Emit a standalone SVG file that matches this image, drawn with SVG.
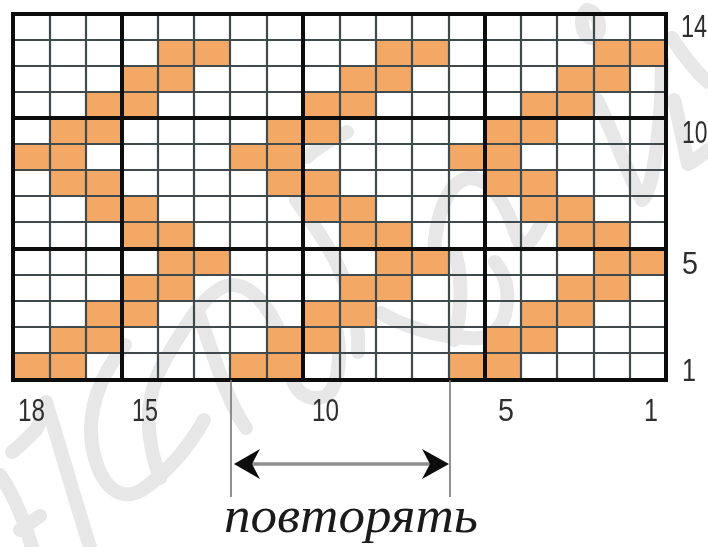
<svg xmlns="http://www.w3.org/2000/svg" width="708" height="547" viewBox="0 0 708 547">
<defs><filter id="soft" x="-2%" y="-2%" width="104%" height="104%"><feGaussianBlur stdDeviation="0.55"/></filter></defs>
<style>
.wm{fill:none;stroke:#e7e7e7;stroke-width:14;stroke-linecap:round;stroke-linejoin:round}
.o{fill:#f3a965}
.t{stroke:#3f4a4c;stroke-width:2.2;fill:none}
.k{stroke:#0c0c0c;stroke-width:4;fill:none}
.n{font-family:"Liberation Sans",Arial,sans-serif;font-size:31px;fill:#2e2e2e}
.g{stroke:#777;stroke-width:1.6;fill:none}
</style>
<rect width="708" height="547" fill="#fff"/>
<g id="watermark" filter="url(#soft)">
<path class="wm" d="M12 452C22 445 30 435 36 430C44 415 44 405 46 402C58 440 72 490 90 547"/>
<path class="wm" d="M0 475C14 495 24 520 32 547M20 530C28 525 36 518 40 516"/>
<path class="wm" d="M125 345C100 375 87 410 92 445C100 490 122 502 142 490C170 470 190 445 204 420"/>
<path class="wm" d="M160 478C146 440 142 400 165 360C185 325 210 285 232 285C258 285 283 325 290 370C294 395 310 402 326 396C340 385 342 350 335 325"/>
<path class="wm" d="M198 312C212 350 226 400 246 428"/>
<path class="wm" d="M347 132C330 140 316 148 307 157M296 200C310 220 325 240 335 260C350 290 360 320 358 352"/>
<path class="wm" d="M381 313C400 325 440 338 470 338C490 340 500 330 505 315C510 295 508 278 495 262"/>
<path class="wm" d="M434 252C436 215 448 180 470 178C495 178 510 215 518 240C524 252 535 240 546 212"/>
<path class="wm" d="M456 255C462 280 462 310 454 340"/>
<path class="wm" d="M587 10C578 18 582 38 592 38C602 38 602 12 587 10"/>
<path class="wm" d="M597 100C612 130 628 175 642 200C652 195 662 130 662 60"/>
<path class="wm" d="M672 38C686 60 700 75 708 82M674 100C680 125 684 145 688 164C696 160 702 155 708 150"/>
</g>
<g id="cells" class="o" filter="url(#soft)">
<path d="M158 40h72v26h-72zM376 40h73v26h-73zM594 40h72v26h-72z"/>
<path d="M122 66h72v26h-72zM340 66h72v26h-72zM557 66h73v26h-73z"/>
<path d="M86 92h72v26h-72zM303 92h73v26h-73zM521 92h73v26h-73z"/>
<path d="M50 118h72v26h-72zM267 118h73v26h-73zM485 118h72v26h-72z"/>
<path d="M14 144h72v26h-72zM230 144h73v26h-73zM449 144h72v26h-72z"/>
<path d="M50 170h72v26h-72zM267 170h73v26h-73zM485 170h72v26h-72z"/>
<path d="M86 196h72v26h-72zM303 196h73v26h-73zM521 196h73v26h-73z"/>
<path d="M122 222h72v27h-72zM340 222h72v27h-72zM557 222h73v27h-73z"/>
<path d="M158 249h72v26h-72zM376 249h73v26h-73zM594 249h72v26h-72z"/>
<path d="M122 275h72v26h-72zM340 275h72v26h-72zM557 275h73v26h-73z"/>
<path d="M86 301h72v26h-72zM303 301h73v26h-73zM521 301h73v26h-73z"/>
<path d="M50 327h72v26h-72zM267 327h73v26h-73zM485 327h72v26h-72z"/>
<path d="M14 353h72v27h-72zM230 353h73v27h-73zM449 353h72v27h-72z"/>
</g>
<g id="grid" filter="url(#soft)">
<path class="t" d="M50 14V380M86 14V380M158 14V380M194 14V380M230 14V380M267 14V380M340 14V380M376 14V380M412 14V380M449 14V380M521 14V380M557 14V380M594 14V380M630 14V380"/>
<path class="t" d="M14 40H666M14 66H666M14 92H666M14 144H666M14 170H666M14 196H666M14 222H666M14 275H666M14 301H666M14 327H666M14 353H666"/>
<path class="k" d="M122 14V380M303 14V380M485 14V380M14 118H666M14 249H666"/>
<path class="k" stroke-width="5" d="M13 14H666V380H13Z"/>
</g>
<g id="labels" filter="url(#soft)">
<text class="n" x="18" y="421" textLength="27" lengthAdjust="spacingAndGlyphs">18</text>
<text class="n" x="132" y="421" textLength="26" lengthAdjust="spacingAndGlyphs">15</text>
<text class="n" x="312" y="421" textLength="27" lengthAdjust="spacingAndGlyphs">10</text>
<text class="n" x="498" y="421" textLength="16" lengthAdjust="spacingAndGlyphs">5</text>
<text class="n" x="644" y="421" textLength="14" lengthAdjust="spacingAndGlyphs">1</text>
<text class="n" transform="translate(681 37) scale(.76 1)">14</text>
<text class="n" transform="translate(682 143) scale(.74 1)">10</text>
<text class="n" x="682" y="274" textLength="16" lengthAdjust="spacingAndGlyphs">5</text>
<text class="n" x="682" y="381" textLength="14" lengthAdjust="spacingAndGlyphs">1</text>
</g>
<g id="connectors" filter="url(#soft)">
<path class="g" d="M231 380V497M450 380V497"/>
<path d="M250 464H432" stroke="#8f8f8f" stroke-width="3.5" fill="none"/>
<path d="M234 464L260 449L252 464L260 479Z" fill="#0c0c0c"/>
<path d="M449 464L422 449L430 464L422 479Z" fill="#0c0c0c"/>
</g>
<text x="224" y="532" font-family="'Liberation Serif','Times New Roman',serif" font-style="italic" font-size="50" fill="#1a1a1a" textLength="254" lengthAdjust="spacingAndGlyphs">повторять</text>
</svg>
